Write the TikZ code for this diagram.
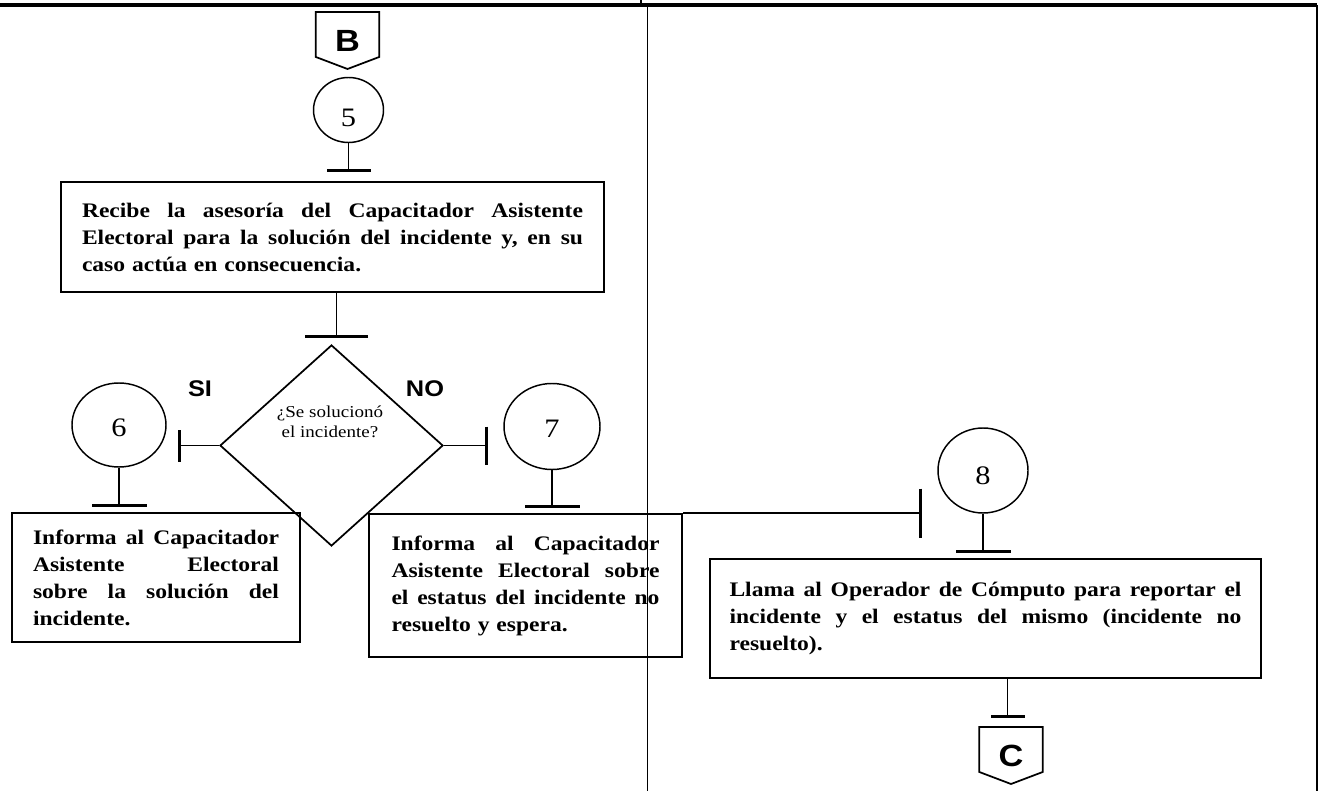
\documentclass[tikz,border=0pt]{standalone}
\usepackage{fontspec}
\setmainfont{Liberation Serif}[FakeStretch=1.14]
\setsansfont{Liberation Sans}[FakeStretch=1.12]
\usetikzlibrary{shapes.geometric,arrows.meta}
\newcommand\jline[2]{\noindent\hbox to #1{#2}}
\newcommand\gapw{\hfill}
\begin{document}
\begin{tikzpicture}[x=0.75pt,y=-0.75pt,
  box/.style={draw, line width=1.5pt, rectangle, inner ysep=0pt, align=left,
    font=\bfseries\fontsize{15.5}{20.25}\selectfont},
  num/.style={draw, ellipse, line width=1.1pt, inner sep=0pt, text depth=0pt,
    font=\fontsize{20}{22}\selectfont},
  conn/.style={inner sep=0pt, outer sep=0pt, minimum width=47.5pt, minimum height=42.75pt,
    font=\sffamily\bfseries\fontsize{23}{25}\selectfont},
  pent/.style={line width=1.3pt, line join=miter},
  link/.style={line width=1.3pt},
  yn/.style={font=\sffamily\bfseries\fontsize{17}{19}\selectfont, inner sep=0pt},
]
\useasboundingbox (0,0) rectangle (1320,791);
% frame
\draw[line width=3pt] (0,5.5) -- (1317,5.5);
\draw[line width=1.1pt] (647.5,5.5) -- (647.5,791);
\draw[line width=1.5pt] (1316.5,5.5) -- (1316.5,791);
\draw[line width=1pt] (641,0) -- (641,5);

% connector B
\node[conn] (B) at (347.5,40.5) {B};
\draw[pent] (B.north west) -- (B.north east) -- ([yshift=9pt]B.south east) -- (B.south) -- ([yshift=9pt]B.south west) -- cycle;

\node[num, minimum width=52.5pt, minimum height=48.75pt, text height=25pt] (c5) at (348.5,110) {5};

\node[box, text width=375.75pt, inner xsep=15.75pt, minimum height=82.5pt] (recibe) at (332.5,237) {%
\jline{375.75pt}{Recibe\gapw la\gapw asesoría\gapw del\gapw Capacitador\gapw Asistente}\\
\jline{375.75pt}{Electoral\gapw para\gapw la\gapw solución\gapw del\gapw incidente\gapw y,\gapw en\gapw su}\\
caso actúa en consecuencia.};

\node[draw, diamond, line width=1.3pt, minimum width=167.25pt, minimum height=150.75pt, inner sep=0pt] (dia) at (331.5,445.5) {};
\node[font=\fontsize{12.5}{15}\selectfont, align=center, inner sep=0pt] (q) at (330,421.5) {¿Se solucionó\\el incidente?};

\node[yn] (si) at (200,389) {SI};
\node[yn] (no) at (425,389) {NO};

\node[num, minimum width=70.5pt, minimum height=63pt, text height=17.5pt] (c6) at (119,425) {6};
\node[num, minimum width=72pt, minimum height=64.5pt, text height=16pt] (c7) at (552,426.5) {7};
\node[num, minimum width=67.5pt, minimum height=63.75pt, text height=20.5pt] (c8) at (983,470.5) {8};

\node[box, text width=184.5pt, inner xsep=15.75pt, minimum height=96.75pt] (box6) at (156,577.5) {%
\jline{184.5pt}{Informa\gapw al\gapw Capacitador}\\
\jline{184.5pt}{Asistente\gapw Electoral}\\
\jline{184.5pt}{sobre\gapw la\gapw solución\gapw del}\\
incidente.};

\node[box, text width=201pt, inner xsep=16.875pt, minimum height=107.25pt] (box7) at (525.5,585.5) {%
\jline{201pt}{Informa\gapw al\gapw Capacitador}\\
\jline{201pt}{Asistente\gapw Electoral\gapw sobre}\\
\jline{201pt}{el\gapw estatus\gapw del\gapw incidente\gapw no}\\
resuelto y espera.};

\node[box, text width=384pt, inner xsep=14.625pt, minimum height=89.25pt] (llama) at (985.5,618.5) {%
\jline{384pt}{Llama\gapw al\gapw Operador\gapw de\gapw Cómputo\gapw para\gapw reportar\gapw el}\\
\jline{384pt}{incidente\gapw y\gapw el\gapw estatus\gapw del\gapw mismo\gapw (incidente\gapw no}\\
resuelto).};

\node[conn] (C) at (1011,755.5) {C};
\draw[pent] (C.north west) -- (C.north east) -- ([yshift=9pt]C.south east) -- (C.south) -- ([yshift=9pt]C.south west) -- cycle;

% connectors
\coordinate (d2) at ([xshift=3.75pt]dia.north);
\coordinate (cC) at ([xshift=-2.6pt]C.north);
\draw[link, -{Bar[width=33pt,line width=2.2pt]}, shorten >=6.75pt] (c5.south) -- (c5.south |- recibe.north);
\draw[link, -{Bar[width=47.25pt,line width=2.2pt]}, shorten >=4.5pt] (d2 |- recibe.south) -- (d2);
\draw[link, -{Bar[width=24pt,line width=2.2pt]}, shorten >=8.25pt] (dia.west) -- (c6.east |- dia.west);
\draw[link, -{Bar[width=28.5pt,line width=2.2pt]}, shorten >=11.25pt] (dia.east) -- (c7.west |- dia.east);
\draw[link, -{Bar[width=41.25pt,line width=2.2pt]}, shorten >=3.75pt] (c6.south) -- (c6.south |- box6.north);
\draw[link, -{Bar[width=41.25pt,line width=2.2pt]}, shorten >=3.75pt] (c7.south) -- (c7.south |- box7.north);
\draw[link, -{Bar[width=36.75pt,line width=2.2pt]}, shorten >=11.25pt] (box7.north east) -- (c8.west |- box7.north east);
\draw[link, -{Bar[width=41.25pt,line width=2.2pt]}, shorten >=3.75pt] (c8.south) -- (c8.south |- llama.north);
\draw[link, -{Bar[width=25.5pt,line width=2.2pt]}, shorten >=6.75pt] (cC |- llama.south) -- (cC);
\end{tikzpicture}
\end{document}
